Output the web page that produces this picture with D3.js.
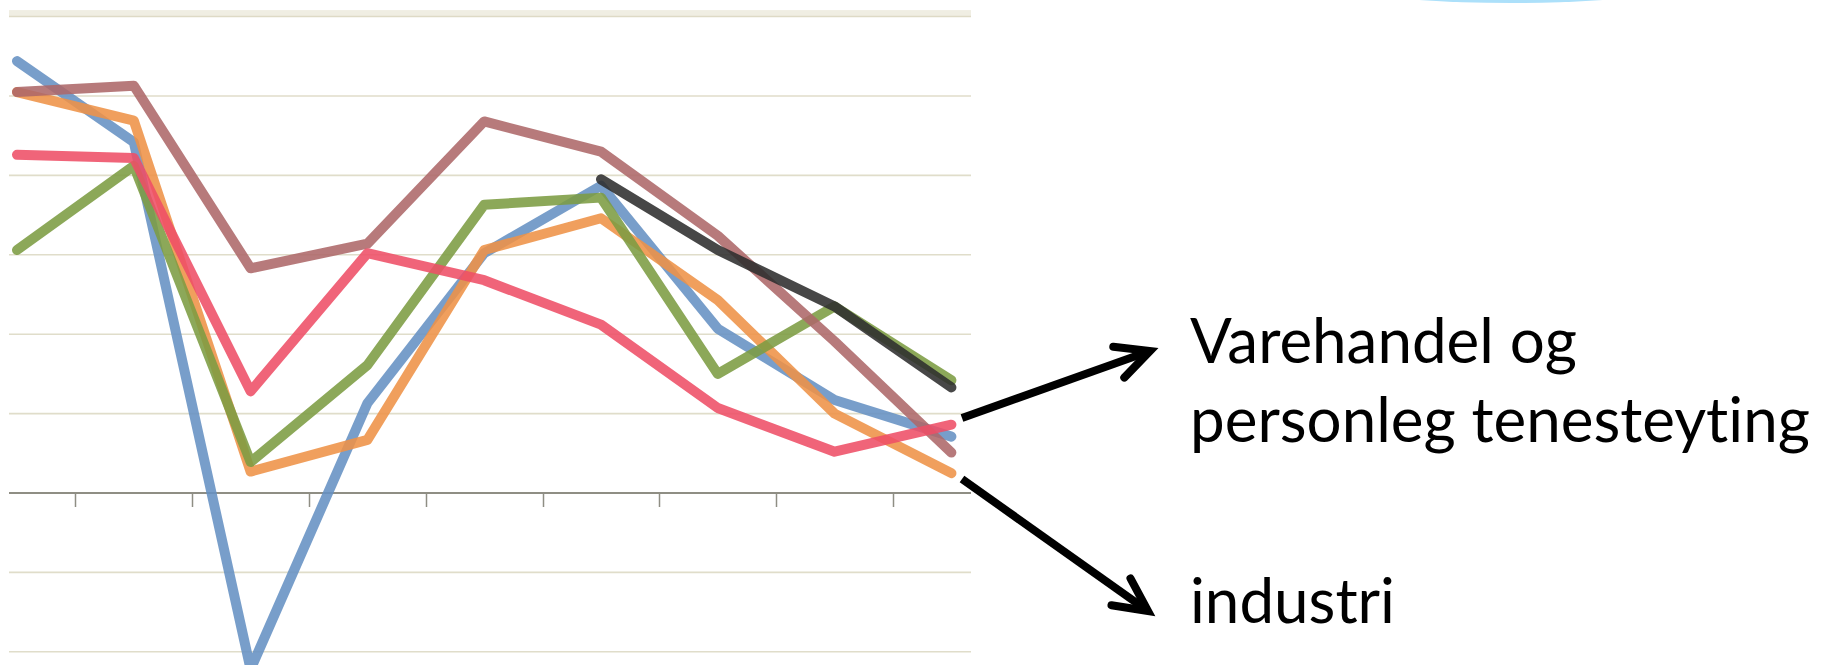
<!DOCTYPE html>
<html>
<head>
<meta charset="utf-8">
<script src="https://cdn.jsdelivr.net/npm/d3@7"></script>
<style>
  html, body { margin: 0; padding: 0; background: #fff; }
  svg { display: block; }
  text { font-variant-ligatures: none; font-feature-settings: "liga" 0; }
</style>
</head>
<body>
<div id="chart"></div>
<script>
// periods along the x axis (labels are cut off in the original)
var categories = ["1", "2", "3", "4", "5", "6", "7", "8", "9"];

// values in gridline units, 0 = axis
var blue   = [5.44, 4.42, -2.22, 1.13, 3.02, 3.87, 2.07, 1.17, 0.71];
var orange = [5.05, 4.69, 0.27, 0.67, 3.06, 3.46, 2.43, 1.00, 0.25];
var green  = [3.06, 4.12, 0.39, 1.61, 3.63, 3.72, 1.50, 2.35, 1.42];
var brown  = [5.05, 5.13, 2.83, 3.14, 4.68, 4.30, 3.24, 1.91, 0.51];
var red    = [4.26, 4.22, 1.28, 3.02, 2.68, 2.12, 1.07, 0.52, 0.86];
var black  = [null, null, null, null, null, 3.95, 3.06, 2.35, 1.33];

var gridValues = [-2, -1, 1, 2, 3, 4, 5];

var labelTop = ["Varehandel og", "personleg tenesteyting"];
var labelBottom = ["industri"];

var series = [
  {values: blue,   color: "#6591c3"},
  {values: orange, color: "#ee9247"},
  {values: green,  color: "#7c9c42"},
  {values: brown,  color: "#ad6869"},
  {values: red,    color: "#ee4f66"},
  {values: black,  color: "#2e2e2e"}
];

var W = 1822, H = 665;
var plotLeft = 9, plotRight = 971;

var svg = d3.select("#chart")
  .append("svg")
    .attr("width", W)
    .attr("height", H);

// x: band scale so points sit at band centres and ticks on band edges
var step = 116.8;
var x = d3.scaleBand()
  .domain(categories)
  .range([17 - step / 2, 17 + step * (categories.length - 0.5)])
  .padding(0);
function cx(c) { return x(c) + x.bandwidth() / 2; }

var y = d3.scaleLinear()
  .domain([-2, 6])
  .range([651.8, 16.6]);

// light blue shape peeking in at the top
svg.append("ellipse")
  .attr("cx", 1511)
  .attr("cy", -40)
  .attr("rx", 250)
  .attr("ry", 43)
  .attr("fill", "#ace0fa");

// top band
svg.append("rect")
  .attr("x", plotLeft)
  .attr("y", y(6) - 6.5)
  .attr("width", plotRight - plotLeft)
  .attr("height", 6.5)
  .attr("fill", "#f0eee3");
svg.append("line")
  .attr("x1", plotLeft).attr("x2", plotRight)
  .attr("y1", y(6)).attr("y2", y(6))
  .attr("stroke", "#dedac6")
  .attr("stroke-width", 1.5);

// gridlines
svg.append("g")
  .selectAll("line")
  .data(gridValues)
  .enter().append("line")
    .attr("x1", plotLeft).attr("x2", plotRight)
    .attr("y1", function(d) { return y(d); })
    .attr("y2", function(d) { return y(d); })
    .attr("stroke", "#e0ddca")
    .attr("stroke-width", 1.6);

// zero axis with ticks between periods
svg.append("line")
  .attr("x1", plotLeft).attr("x2", plotRight)
  .attr("y1", y(0)).attr("y2", y(0))
  .attr("stroke", "#8f8e84")
  .attr("stroke-width", 2);
svg.append("g")
  .selectAll("line")
  .data(categories.slice(1))
  .enter().append("line")
    .attr("x1", function(d) { return Math.round(x(d)) + 0.5; })
    .attr("x2", function(d) { return Math.round(x(d)) + 0.5; })
    .attr("y1", y(0))
    .attr("y2", y(0) + 14)
    .attr("stroke", "#8f8e84")
    .attr("stroke-width", 1.5);

// lines
var line = d3.line()
  .defined(function(d) { return d != null; })
  .x(function(d, i) { return cx(categories[i]); })
  .y(function(d) { return y(d); });

svg.append("g")
  .selectAll("path")
  .data(series)
  .enter().append("path")
    .attr("d", function(s) { return line(s.values); })
    .attr("fill", "none")
    .attr("stroke", function(s) { return s.color; })
    .attr("stroke-opacity", 0.88)
    .attr("stroke-width", 10)
    .attr("stroke-linejoin", "round")
    .attr("stroke-linecap", "round");

// arrows
function arrow(x1, y1, x2, y2) {
  var g = svg.append("g");
  var a = Math.atan2(y2 - y1, x2 - x1);
  g.append("line")
    .attr("x1", x1).attr("y1", y1)
    .attr("x2", x2 - 3 * Math.cos(a))
    .attr("y2", y2 - 3 * Math.sin(a))
    .attr("stroke", "#000")
    .attr("stroke-width", 8);
  var len = 37, spread = 0.46;
  var p1 = [x2 - len * Math.cos(a - spread), y2 - len * Math.sin(a - spread)];
  var p2 = [x2 - len * Math.cos(a + spread), y2 - len * Math.sin(a + spread)];
  g.append("path")
    .attr("d", "M" + p1 + "L" + [x2, y2] + "L" + p2)
    .attr("fill", "none")
    .attr("stroke", "#000")
    .attr("stroke-width", 8)
    .attr("stroke-linecap", "round")
    .attr("stroke-linejoin", "miter");
}
arrow(962, 418, 1150, 351);
arrow(962, 479, 1148, 611);

// labels
var font = "Lato, 'Open Sans', sans-serif";
var texts = svg.append("g")
  .attr("font-family", font)
  .attr("fill", "#000");

var t1 = texts.append("text").attr("x", 1190).attr("y", 363).text(labelTop[0]);
var t2 = texts.append("text").attr("x", 1190).attr("y", 442).text(labelTop[1]);
var t3 = texts.append("text").attr("x", 1190).attr("y", 623).text(labelBottom[0]);

// size the text so the long line spans the same width as in the original
texts.attr("font-size", 50);
var w = t2.node().getComputedTextLength();
texts.attr("font-size", 50 * 620 / w);
</script>
</body>
</html>
